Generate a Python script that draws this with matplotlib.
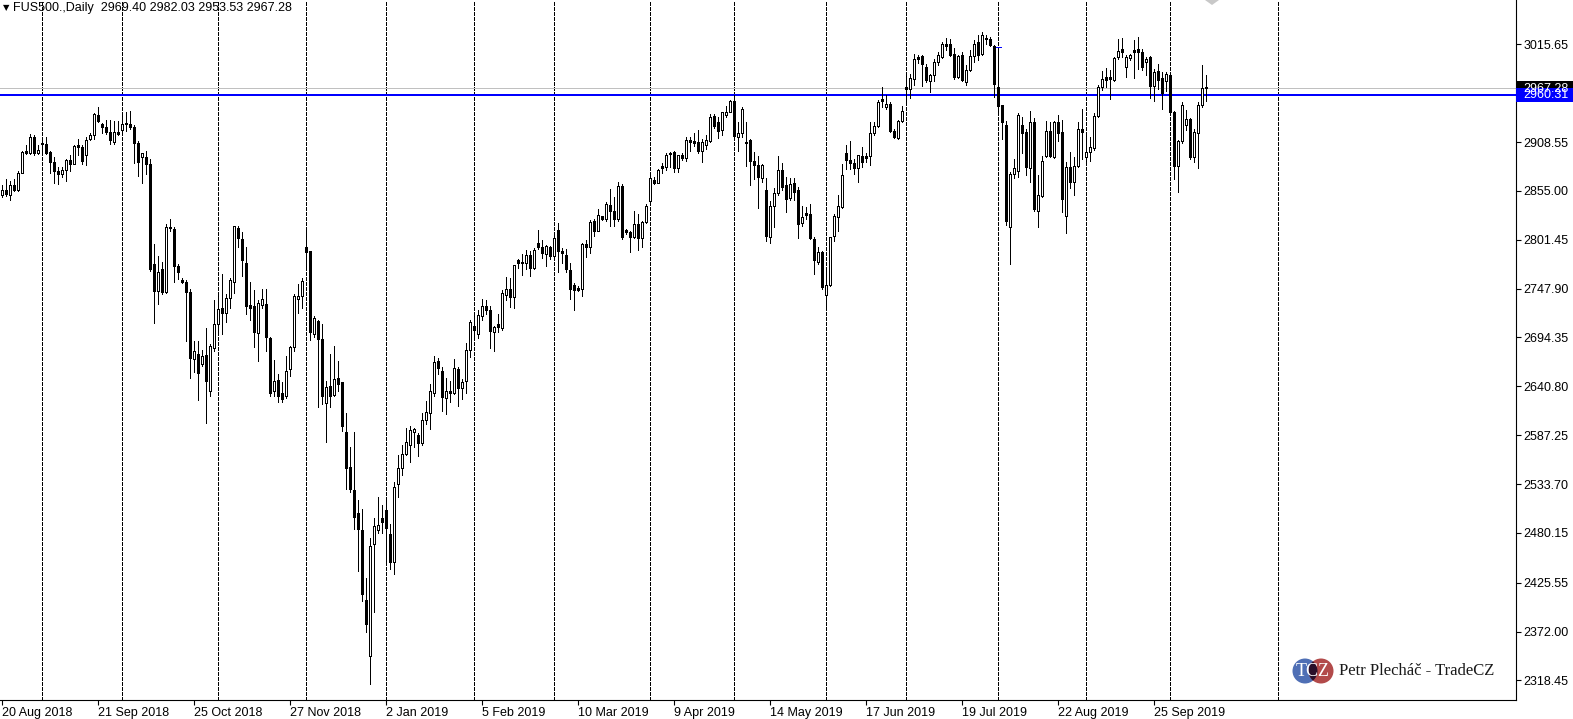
import matplotlib
matplotlib.use('Agg')
import matplotlib.pyplot as plt
from matplotlib.patches import Rectangle, Ellipse, Polygon
from matplotlib.transforms import blended_transform_factory

plt.rcParams['font.family'] = ['Liberation Sans', 'DejaVu Sans']

# ---------------- data (daily OHLC, FUS500) ----------------
opens = [
    2851, 2856, 2851, 2861, 2856, 2875, 2899, 2897, 2914, 2896,
    2907, 2906, 2898, 2887, 2877, 2873, 2878, 2889, 2885, 2905,
    2903, 2894, 2912, 2916, 2938, 2928, 2925, 2920, 2909, 2920,
    2922, 2928, 2928, 2925, 2908, 2892, 2892, 2885, 2775, 2745,
    2769, 2744, 2814.5, 2813, 2773, 2757, 2755, 2744, 2671, 2676,
    2665, 2675, 2636, 2683, 2709,
    2727, 2721, 2738, 2755, 2814,
    2802, 2776, 2730, 2729, 2699, 2730, 2731, 2694, 2636, 2648,
    2634, 2630, 2660, 2684, 2736, 2740, 2794, 2789, 2698, 2712,
    2693, 2623, 2641, 2631, 2650, 2645, 2591, 2552, 2527, 2502,
    2483, 2407, 2345, 2468, 2483, 2496, 2505, 2479, 2448, 2534,
    2551, 2567, 2577, 2591, 2587, 2579, 2604, 2612,
    2634, 2669, 2658, 2628, 2634, 2634, 2660, 2639, 2647, 2681,
    2707, 2698, 2718, 2729, 2725, 2700, 2709, 2705, 2741, 2747,
    2739, 2779, 2776, 2776, 2785, 2771, 2798, 2794, 2786, 2794,
    2784, 2812, 2789, 2785, 2768, 2752, 2749, 2747, 2797, 2794,
    2822, 2811, 2827, 2824, 2840, 2833, 2824, 2860, 2812, 2810,
    2804, 2819, 2803, 2821,
    2844, 2867, 2864, 2882, 2881, 2895, 2898, 2880, 2894, 2891,
    2911, 2910, 2909, 2899, 2905, 2910, 2937, 2930, 2922, 2938,
    2942, 2954, 2914, 2918, 2907, 2911, 2888, 2883, 2869, 2856,
    2805, 2838, 2853, 2878, 2861, 2847, 2864, 2856, 2820, 2831,
    2830, 2802, 2777, 2788, 2741, 2752, 2806, 2826, 2837, 2896,
    2889, 2886, 2880, 2893, 2891,
    2893, 2919, 2926, 2956, 2947, 2950, 2921, 2913, 2932, 2969,
    2967, 2978, 3000, 3003, 2991, 2976, 2982, 2996, 3002, 3014,
    3016, 3005, 2980, 3004, 2974, 2987, 3003, 3018, 3005, 3023,
    3022, 3014, 2969, 2949, 2927, 2815, 2873, 2877, 2927, 2920,
    2880, 2930, 2833, 2849, 2893, 2921, 2892, 2930, 2920, 2827,
    2881, 2865, 2882, 2923,
    2892, 2898, 2902, 2937, 2969, 2980, 2980, 2977, 3002, 3010,
    2991, 3001, 3009, 3010, 3007, 2996, 3002, 2970, 2986, 2979,
    2976, 2982, 2942, 2882, 2910, 2927, 2934, 2892, 2919, 2949, 2969.40,
]
highs = [
    2861, 2868, 2866, 2868, 2877, 2899, 2905, 2917, 2916, 2905,
    2914, 2914, 2899, 2892, 2881, 2881, 2890, 2894, 2905, 2912,
    2905, 2914, 2918, 2940, 2947, 2929, 2933, 2933, 2932, 2932,
    2940, 2942, 2943, 2927, 2910, 2897, 2899, 2890, 2797, 2784,
    2777, 2819, 2824, 2815, 2775, 2760, 2757, 2748, 2690, 2690,
    2681, 2705, 2687, 2735, 2742,
    2764, 2742, 2760, 2817, 2817,
    2810, 2794, 2755, 2746, 2735, 2747, 2747, 2695, 2670, 2654,
    2645, 2674, 2685, 2742, 2753, 2760, 2815, 2789, 2718, 2713,
    2709, 2647, 2676, 2685, 2669, 2646, 2612, 2574, 2591, 2516,
    2506, 2431, 2475, 2497, 2520, 2511, 2519, 2490, 2536, 2566,
    2577, 2595, 2597, 2595, 2590, 2612, 2625, 2643,
    2674, 2672, 2662, 2650, 2647, 2671, 2662, 2649, 2688, 2713,
    2718, 2724, 2736, 2735, 2729, 2707, 2720, 2746, 2761, 2760,
    2774, 2780, 2786, 2790, 2789, 2792, 2812, 2801, 2796, 2795,
    2808, 2820, 2792, 2791, 2776, 2754, 2751, 2798, 2801, 2823,
    2824, 2835, 2828, 2843, 2857, 2848, 2865, 2863, 2813, 2811,
    2833, 2830, 2822, 2841,
    2874, 2870, 2879, 2886, 2896, 2898, 2899, 2894, 2897, 2914,
    2914, 2918, 2922, 2912, 2916, 2939, 2939, 2936, 2942, 2948,
    2955, 2960, 2930, 2947, 2930, 2912, 2898, 2893, 2885, 2869,
    2844, 2858, 2893, 2886, 2870, 2869, 2869, 2859, 2839, 2837,
    2841, 2804, 2794, 2789, 2767, 2805, 2830, 2850, 2885, 2905,
    2910, 2890, 2894, 2903, 2897,
    2930, 2930, 2955, 2969, 2960, 2952, 2923, 2933, 2948, 2981,
    2983, 3005, 3004, 3004, 2994, 2983, 3000, 3007, 3018, 3023,
    3021, 3012, 3004, 3007, 2993, 3009, 3020, 3026, 3029, 3026,
    3024, 3015, 3013, 2949, 2932, 2876, 2890, 2940, 2936, 2923,
    2943, 2935, 2872, 2893, 2932, 2930, 2932, 2938, 2933, 2887,
    2898, 2892, 2930, 2945,
    2919, 2914, 2940, 2971, 2986, 2990, 2987, 3002, 3021, 3023,
    3004, 3005, 3020, 3024, 3011, 3002, 3003, 2989, 2994, 2985,
    2985, 2983, 2943, 2911, 2952, 2944, 2935, 2923, 2952, 2993, 2982.03,
]
lows = [
    2848, 2849, 2845, 2855, 2855, 2875, 2895, 2895, 2894, 2895,
    2895, 2895, 2875, 2864, 2863, 2870, 2866, 2877, 2884, 2894,
    2884, 2883, 2911, 2912, 2930, 2919, 2917, 2906, 2906, 2916,
    2916, 2921, 2923, 2886, 2871, 2864, 2873, 2767, 2710, 2731,
    2742, 2743, 2811, 2755, 2758, 2754, 2690, 2650, 2656, 2626,
    2663, 2601, 2630, 2679, 2698,
    2698, 2711, 2727, 2743, 2793,
    2762, 2720, 2713, 2684, 2669, 2727, 2680, 2630, 2630, 2624,
    2624, 2628, 2652, 2680, 2721, 2727, 2771, 2692, 2695, 2618,
    2621, 2580, 2618, 2630, 2636, 2592, 2528, 2525, 2484, 2438,
    2406, 2371, 2314, 2393, 2480, 2480, 2449, 2441, 2435, 2520,
    2544, 2566, 2558, 2574, 2564, 2576, 2599, 2594,
    2630, 2654, 2614, 2610, 2624, 2632, 2619, 2627, 2634, 2673,
    2694, 2694, 2714, 2720, 2683, 2679, 2700, 2702, 2735, 2728,
    2727, 2771, 2763, 2769, 2762, 2769, 2791, 2781, 2773, 2780,
    2779, 2766, 2776, 2766, 2736, 2724, 2745, 2740, 2783, 2787,
    2806, 2811, 2823, 2822, 2817, 2816, 2822, 2802, 2808, 2788,
    2803, 2790, 2793, 2820,
    2843, 2863, 2864, 2875, 2878, 2881, 2876, 2876, 2889, 2888,
    2899, 2904, 2897, 2887, 2901, 2909, 2924, 2913, 2916, 2936,
    2941, 2914, 2899, 2914, 2882, 2861, 2868, 2836, 2865, 2800,
    2798, 2815, 2850, 2856, 2832, 2845, 2845, 2803, 2817, 2824,
    2802, 2764, 2775, 2748, 2727, 2751, 2800, 2811, 2836, 2879,
    2879, 2874, 2865, 2881, 2887,
    2883, 2916, 2925, 2947, 2945, 2920, 2913, 2912, 2930, 2950,
    2957, 2971, 2995, 2970, 2974, 2963, 2975, 2993, 3001, 3009,
    3003, 2978, 2979, 2975, 2971, 2986, 2996, 2998, 3004, 3016,
    3014, 2958, 2943, 2912, 2818, 2775, 2869, 2870, 2897, 2872,
    2865, 2833, 2815, 2848, 2892, 2892, 2891, 2910, 2832, 2809,
    2858, 2851, 2881, 2890,
    2888, 2888, 2900, 2936, 2966, 2969, 2956, 2976, 3000, 3002,
    2980, 2998, 2979, 2989, 2987, 2982, 2957, 2953, 2967, 2945,
    2965, 2940, 2868, 2854, 2907, 2922, 2890, 2887, 2880, 2947, 2953.53,
]
closes = [
    2856, 2852, 2861, 2856, 2875, 2898, 2897, 2914, 2897, 2900,
    2906, 2896, 2887, 2877, 2873, 2878, 2889, 2885, 2904, 2903,
    2888, 2911, 2916, 2939, 2932, 2925, 2920, 2911, 2920, 2917,
    2928, 2929, 2925, 2908, 2887, 2896, 2885, 2769, 2745, 2766,
    2744, 2815, 2814, 2773, 2766, 2755, 2744, 2672, 2680, 2655,
    2674, 2647, 2685, 2709, 2726,
    2721, 2738, 2757, 2816, 2803,
    2779, 2729, 2727, 2700, 2732, 2736, 2695, 2634, 2647, 2630,
    2627, 2658, 2684, 2740, 2740, 2756, 2788, 2700, 2716, 2693,
    2630, 2640, 2630, 2649, 2643, 2597, 2551, 2528, 2498, 2484,
    2413, 2380, 2466, 2488, 2489, 2492, 2486, 2448, 2530, 2551,
    2567, 2580, 2593, 2594, 2579, 2604, 2613, 2636,
    2668, 2661, 2629, 2636, 2636, 2661, 2639, 2646, 2681, 2711,
    2702, 2719, 2729, 2725, 2701, 2706, 2706, 2743, 2747, 2739,
    2774, 2776, 2777, 2785, 2771, 2790, 2793, 2787, 2795, 2784,
    2803, 2789, 2787, 2769, 2747, 2746, 2746, 2797, 2794, 2821,
    2811, 2829, 2824, 2841, 2833, 2824, 2860, 2805, 2810, 2804,
    2819, 2803, 2821, 2839,
    2869, 2864, 2878, 2880, 2894, 2897, 2880, 2894, 2891, 2911,
    2909, 2908, 2899, 2909, 2911, 2936, 2926, 2921, 2941, 2942,
    2954, 2915, 2918, 2945, 2909, 2888, 2883, 2870, 2883, 2806,
    2839, 2853, 2878, 2859, 2846, 2863, 2854, 2819, 2826, 2829,
    2803, 2779, 2788, 2750, 2752, 2804, 2827, 2839, 2872, 2889,
    2886, 2880, 2894, 2887, 2893,
    2919, 2926, 2952, 2953, 2950, 2921, 2914, 2932, 2943, 2967,
    2979, 3000, 3002, 2994, 2977, 2982, 2996, 3004, 3016, 3016,
    3004, 2980, 3003, 2977, 2988, 3003, 3016, 3004, 3026, 3021,
    3015, 2972, 2948, 2930, 2822, 2874, 2880, 2938, 2918, 2881,
    2930, 2835, 2851, 2888, 2921, 2893, 2931, 2919, 2846, 2881,
    2865, 2882, 2923, 2920,
    2898, 2903, 2937, 2969, 2978, 2977, 2978, 3001, 3008, 3007,
    3002, 3004, 3007, 3007, 2991, 3000, 2970, 2985, 2977, 2962,
    2983, 2941, 2882, 2910, 2949, 2934, 2892, 2920, 2949, 2968, 2967.28,
]

date_labels = ['20 Aug 2018', '21 Sep 2018', '25 Oct 2018', '27 Nov 2018',
               '2 Jan 2019', '5 Feb 2019', '10 Mar 2019', '9 Apr 2019',
               '14 May 2019', '17 Jun 2019', '19 Jul 2019', '22 Aug 2019',
               '25 Sep 2019']
label_bars = [0, 24, 48, 72, 96, 120, 144, 168, 192, 216, 240, 264, 288]
separator_bars = [10, 30, 54, 76, 96, 118, 138, 162, 183, 206, 226, 249, 271, 292, 319]
price_ticks = [3015.65, 2908.55, 2855.00, 2801.45, 2747.90, 2694.35, 2640.80,
               2587.25, 2533.70, 2480.15, 2425.55, 2372.00, 2318.45]
level_price = 2960.31
last_price = 2967.28
marker_bar = 249
marker_price = 3012.7
symbol_name = 'FUS500.,Daily'
author = 'Petr Plecháč - TradeCZ'

# ---------------- figure ----------------
W, H = 1573, 719
fig = plt.figure(figsize=(W / 100, H / 100), dpi=100)
fig.patch.set_facecolor('white')
AX_W, AX_H = 1516, 700
ax = fig.add_axes([0, 1 - AX_H / H, AX_W / W, AX_H / H])
ax.set_facecolor('white')

n = len(opens)
xs = list(range(n))
# 4 px per bar, bar i centred on pixel column 4i+1
x0 = -1.5 / 4
ax.set_xlim(x0, x0 + AX_W / 4)
ylo, yhi = 2297.0, 3064.24
ax.set_ylim(ylo, yhi)
ppx = (yhi - ylo) / AX_H          # price units per pixel
PX = 72 / 100                     # points per pixel

# period separators
for b in separator_bars:
    ax.axvline(b, color='black', lw=PX, linestyle=(0, (3, 2)), zorder=1,
               antialiased=False)

# level lines
ax.axhline(last_price, color='#c0c0c0', lw=PX, zorder=2, antialiased=False)
ax.axhline(level_price, color='#0000ff', lw=2 * PX, zorder=2, antialiased=False)

# candles: wick, 3px black body, 1px white core for rising candles
ax.vlines(xs, lows, highs, color='black', lw=PX, zorder=3, antialiased=False)
bottoms = [min(o, c) for o, c in zip(opens, closes)]
tops = [max(o, c) for o, c in zip(opens, closes)]
tops_d = [max(t, b + 1.2 * ppx) for b, t in zip(bottoms, tops)]
body = ax.vlines(xs, bottoms, tops_d, color='black', lw=3 * PX, zorder=4,
                 antialiased=False)
body.set_capstyle('butt')
up_x, up_b, up_t = [], [], []
for i in range(n):
    if closes[i] > opens[i] and (tops[i] - bottoms[i]) > 2.2 * ppx:
        up_x.append(i)
        up_b.append(bottoms[i] + ppx)
        up_t.append(tops[i] - ppx)
core = ax.vlines(up_x, up_b, up_t, color='white', lw=PX, zorder=5,
                 antialiased=False)
core.set_capstyle('butt')

# small blue marker
ax.hlines(marker_price, marker_bar - 0.5, marker_bar + 0.75, color='#0000ff',
          lw=PX, zorder=6, antialiased=False)

# axes styling
for s in ['top', 'left']:
    ax.spines[s].set_visible(False)
ax.spines['right'].set_color('black')
ax.spines['bottom'].set_color('black')
ax.spines['right'].set_linewidth(0.8)
ax.spines['bottom'].set_linewidth(0.8)

ax.yaxis.tick_right()
ax.set_yticks(price_ticks)
ax.set_yticklabels(['%.2f' % p for p in price_ticks], fontsize=9)
ax.tick_params(axis='y', direction='out', length=3.5, width=0.8, pad=2,
               colors='black')
ax.set_xticks(label_bars)
ax.set_xticklabels(date_labels, fontsize=9, ha='left')
ax.tick_params(axis='x', direction='out', length=3.5, width=0.8, pad=1.5,
               colors='black')

# price boxes on the right axis
bt = blended_transform_factory(ax.transAxes, ax.transData)
box_w = 60 / AX_W
for price, fc in [(last_price, 'black'), (level_price, '#0000ff')]:
    ax.add_patch(Rectangle((1.0, price - 7 * ppx), box_w, 14 * ppx,
                           transform=bt, facecolor=fc, edgecolor='none',
                           clip_on=False, zorder=10))
    ax.text(1.0 + 7 / AX_W, price - 0.5 * ppx, '%.2f' % price, transform=bt,
            color='white', fontsize=9, va='center', ha='left', clip_on=False,
            zorder=11)

# header
fig.text(3 / W, 1 - 7.5 / H, '▼', fontsize=6, family=['DejaVu Sans'],
         va='center', ha='left', color='black')
fig.text(13 / W, 1 - 7.5 / H,
         '%s  %.2f %.2f %.2f %.2f' % (symbol_name, opens[-1], highs[-1], lows[-1], closes[-1]),
         fontsize=9, va='center', ha='left', color='black')

# grey marker at top
fig.add_artist(Polygon([(1205 / W, 1.0), (1219 / W, 1.0), (1212 / W, 1 - 5 / H)],
                       closed=True, facecolor='#c8c8c8', edgecolor='none',
                       transform=fig.transFigure))

# logo
cy = 1 - 671 / H
blue_c = Ellipse((1305 / W, cy), 25 / W, 25 / H, transform=fig.transFigure,
                 facecolor='#4f6fb5', edgecolor='none')
red_c = Ellipse((1321 / W, cy), 25 / W, 25 / H, transform=fig.transFigure,
                facecolor='#b24a4a', edgecolor='none')
fig.add_artist(blue_c)
fig.add_artist(red_c)
ov = Ellipse((1321 / W, cy), 25 / W, 25 / H, transform=fig.transFigure,
             facecolor='#2a0f2a', edgecolor='none')
fig.add_artist(ov)
ov.set_clip_path(blue_c)
fig.text(1313 / W, cy, 'TCZ', fontsize=13, family=['Liberation Serif'],
         color='white', va='center', ha='center')
fig.text(1339 / W, cy, author, fontsize=12, family=['Liberation Serif'],
         color='#1a1a1a', va='center', ha='left')

fig.savefig('out.png', dpi=100, facecolor='white')
